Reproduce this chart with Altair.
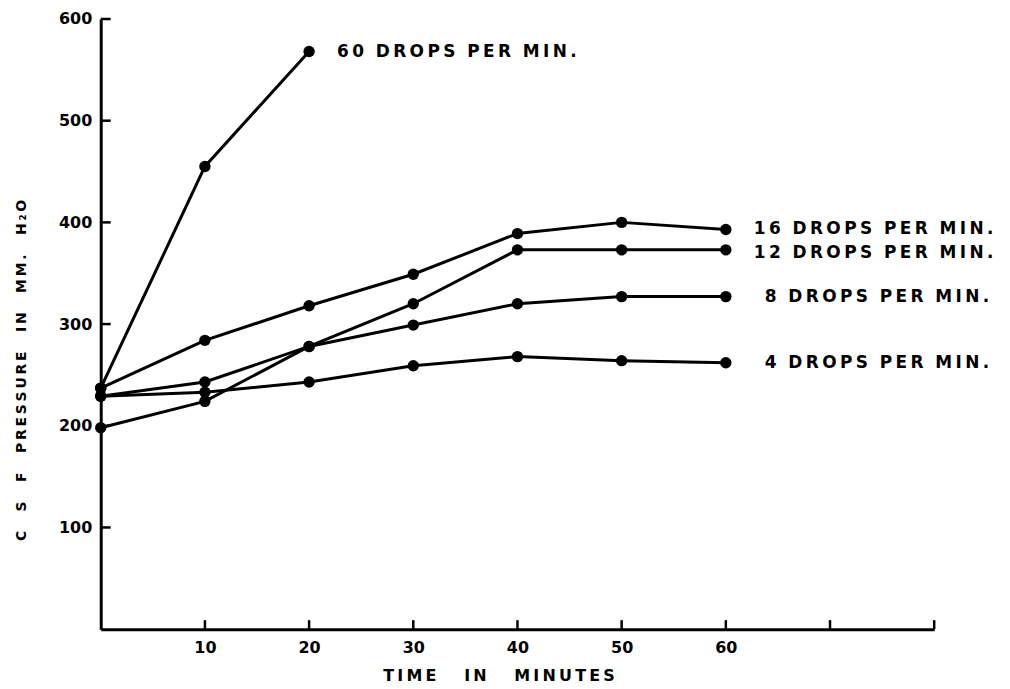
import altair as alt
import pandas as pd

minutes = [0, 10, 20, 30, 40, 50, 60]
p60 = [237, 455, 568]
p16 = [237, 284, 318, 349, 389, 400, 393]
p12 = [198, 224, 278, 320, 373, 373, 373]
p8 = [229, 243, 278, 299, 320, 327, 327]
p4 = [229, 233, 243, 259, 268, 264, 262]

series_names = ["60", "16", "12", "8", "4"]
series_vals = [p60, p16, p12, p8, p4]

label_words = ["60 DROPS PER MIN.", "16 DROPS PER MIN.", "12 DROPS PER MIN.",
               "8 DROPS PER MIN.", "4 DROPS PER MIN."]
label_x = [20, 60, 60, 60, 60]
label_y = [568, 393, 370, 327, 262]
label_dx = [28, 28, 28, 39, 39]

x_title_words = "TIME IN MINUTES"
y_title_words = "C S F PRESSURE IN MM. H\u2082O"

x_ticks = [10, 20, 30, 40, 50, 60, 70, 80]
x_labels = [10, 20, 30, 40, 50, 60]
y_ticks = [100, 200, 300, 400, 500, 600]

THIN = "\u2009"
NB = "\u00a0"


def spaced(s, gap=3):
    return (NB * gap).join(THIN.join(list(w)) for w in s.split(" "))


rows = []
for name, vals in zip(series_names, series_vals):
    for m, v in zip(minutes, vals):
        rows.append({"series": name, "minutes": m, "pressure": v})
df = pd.DataFrame(rows)
labels = pd.DataFrame({"series": series_names, "text": [spaced(t, 2) for t in label_words],
                       "minutes": label_x, "pressure": label_y, "dx": label_dx})
xt = pd.DataFrame({"minutes": x_ticks})
yt = pd.DataFrame({"pressure": y_ticks})

W, H = 836, 612
FONT = "DejaVu Sans"

xscale = alt.Scale(domain=[0, 80], nice=False)
yscale = alt.Scale(domain=[0, 600], nice=False)

xenc = alt.X("minutes:Q", scale=xscale, axis=alt.Axis(
    values=x_labels, tickSize=0, grid=False, domainWidth=3, domainColor="black",
    labelFont=FONT, labelFontWeight="bold", labelFontSize=16, labelColor="black", labelPadding=10,
    title=spaced(x_title_words, 5), titleFont=FONT, titleFontWeight="bold", titleFontSize=16,
    titleColor="black", titlePadding=13, titleX=399))
yenc = alt.Y("pressure:Q", scale=yscale, axis=alt.Axis(
    values=y_ticks, tickSize=0, grid=False, domainWidth=3, domainColor="black",
    labelFont=FONT, labelFontWeight="bold", labelFontSize=16, labelColor="black", labelPadding=9,
    title=spaced(y_title_words, 4), titleFont=FONT, titleFontWeight="bold",
    titleFontSize=14, titleColor="black", titlePadding=30, titleY=352))

lines = alt.Chart(df).mark_line(color="black", strokeWidth=3).encode(
    x=xenc, y=yenc, detail="series:N")
points = alt.Chart(df).mark_point(filled=True, color="black", opacity=1, size=130).encode(
    x="minutes:Q", y="pressure:Q")
texts_a = alt.Chart(labels[labels["dx"] == 28]).mark_text(
    align="left", baseline="middle", dx=28, font=FONT,
    fontWeight="bold", fontSize=17, color="black").encode(
    x="minutes:Q", y="pressure:Q", text="text:N")
texts_b = alt.Chart(labels[labels["dx"] == 39]).mark_text(
    align="left", baseline="middle", dx=39, font=FONT,
    fontWeight="bold", fontSize=17, color="black").encode(
    x="minutes:Q", y="pressure:Q", text="text:N")
xtick_rules = alt.Chart(xt).mark_rule(color="black", strokeWidth=2.5).encode(
    x="minutes:Q", y=alt.value(H), y2=alt.value(H - 9))
ytick_rules = alt.Chart(yt).mark_rule(color="black", strokeWidth=2.5).encode(
    y="pressure:Q", x=alt.value(0), x2=alt.value(10))

chart = alt.layer(lines, points, texts_a, texts_b, xtick_rules, ytick_rules).properties(
    width=W, height=H,
    background="white",
    autosize=alt.AutoSizeParams(type="none"),
    padding={"left": 93, "top": 10, "right": 68, "bottom": 58},
).configure_view(stroke=None)

chart.save("out.html", embed_options={"renderer": "svg", "actions": False})
